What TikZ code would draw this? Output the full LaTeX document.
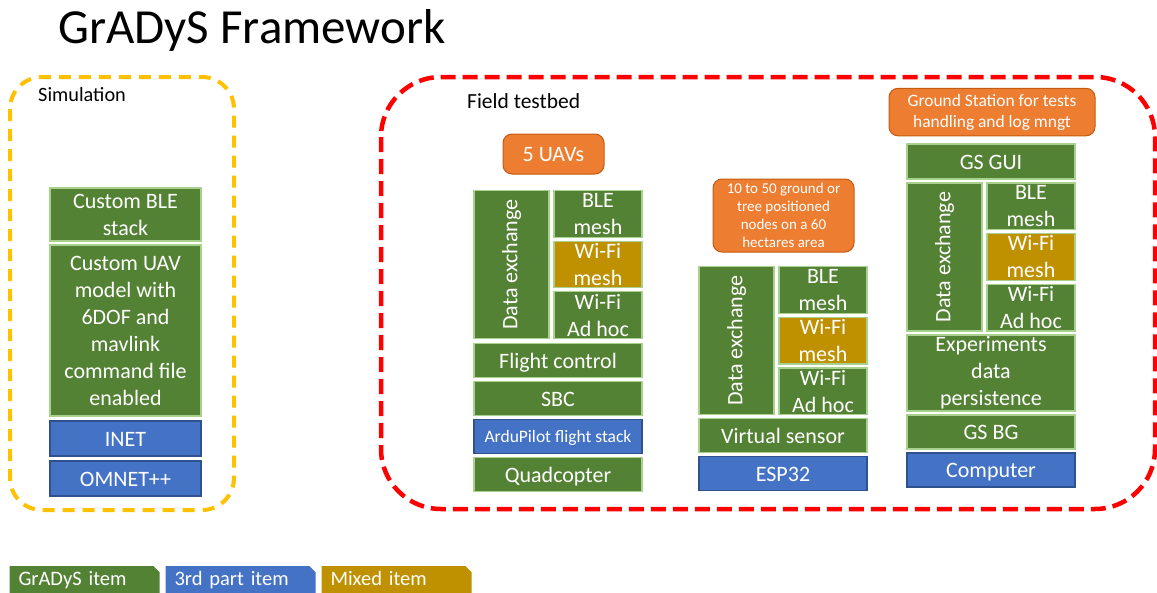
\documentclass[tikz,border=0pt]{standalone}
\usepackage{fontspec}
\setmainfont{Carlito}
\usetikzlibrary{positioning,backgrounds}

\definecolor{gradysgreen}{HTML}{548235}
\definecolor{thirdblue}{HTML}{4472C4}
\definecolor{mixedgold}{HTML}{BF9000}
\definecolor{calloutorange}{HTML}{ED7D31}
\definecolor{simyellow}{HTML}{FFC000}
\definecolor{fieldred}{HTML}{FF0000}
\definecolor{greenedge}{HTML}{A9D18E}
\definecolor{blueedge}{HTML}{2F528F}
\definecolor{orangeedge}{HTML}{C55A11}

\newcommand{\stackfont}{\fontsize{22}{27}\selectfont}
\newcommand{\smallstack}{\fontsize{17.5}{21}\selectfont}

\tikzset{
  basic/.style   = {rectangle, inner sep=0pt, outer sep=0pt, align=center,
                    text=white, font=\stackfont, line width=1.2pt},
  gitem/.style   = {basic, fill=gradysgreen, draw=greenedge},
  titem/.style   = {basic, fill=thirdblue, draw=blueedge},
  mitem/.style   = {basic, fill=mixedgold, draw=greenedge},
  callout/.style = {basic, rounded corners=9pt, fill=calloutorange,
                    draw=orangeedge, line width=1pt, anchor=north west},
  oneline/.style = {text height=20pt, text depth=5pt},
  dxbox/.style   = {minimum width=75pt, minimum height=148pt},
  netbox/.style  = {minimum width=88pt, minimum height=46.67pt},
  layer/.style   = {oneline, minimum width=168pt, minimum height=34pt},
  legend/.style  = {basic, font=\fontsize{20.5}{24}\selectfont, text width=132pt,
                    text height=15pt, text depth=5pt,
                    inner xsep=9pt, align=left, minimum height=28pt, anchor=north west}
}

\begin{document}
\begin{tikzpicture}[x=1pt, y=-1pt]
\useasboundingbox (0,0) rectangle (1157,592);

% title
\node[anchor=base west, inner sep=0pt, font=\fontsize{49}{55}\selectfont] (title) at (58,43) {GrADyS Framework};

% the two environments
\draw[simyellow, line width=4pt, dash pattern=on 12pt off 8pt, rounded corners=32pt] (10,77) rectangle (234,510);
\draw[fieldred, line width=4.5pt, dash pattern=on 15pt off 7pt, rounded corners=60pt] (381,77) rectangle (1155,509);
\node[anchor=west, inner sep=0pt, font=\fontsize{20.3}{24}\selectfont] (sim) at (38,95) {Simulation};
\node[anchor=west, inner sep=0pt, font=\fontsize{21.5}{24}\selectfont] (field) at (467,101) {Field testbed};

% simulation stack
\node[gitem, minimum width=151pt, minimum height=53pt, anchor=north west] (s-ble) at (50,188) {Custom BLE\\stack};
\node[gitem, minimum width=151pt, minimum height=171pt, below=4pt of s-ble] (s-uav) {Custom UAV\\model with\\6DOF and\\mavlink\\command file\\enabled};
\node[titem, oneline, minimum width=151pt, minimum height=35pt, below=5pt of s-uav] (s-inet) {INET};
\node[titem, oneline, minimum width=151pt, minimum height=35pt, below=5pt of s-inet] (s-omnet) {OMNET++};

% data exchange groups: UAVs, ground nodes, ground station
\foreach \c/\x/\y in {u/474/190.5, n/699/266.7, g/907/183}{
  \node[gitem, dxbox, anchor=north west] (\c-dx) at (\x,\y) {\rotatebox{90}{Data exchange}};
  \node[gitem, netbox, right=5pt of \c-dx.north east, anchor=north west] (\c-ble) {BLE\\mesh};
  \node[mitem, netbox, below=4pt of \c-ble] (\c-wmesh) {Wi-Fi\\mesh};
  \node[gitem, netbox, below=4pt of \c-wmesh] (\c-adhoc) {Wi-Fi\\Ad hoc};
}

% UAV column
\node[callout, oneline, minimum width=101pt, minimum height=40pt] (uavs) at (503,134) {5 UAVs};
\node[gitem, layer, below=5pt of u-dx.south west, anchor=north west] (u-fc) {Flight control};
\node[gitem, layer, below=4pt of u-fc] (u-sbc) {SBC};
\node[titem, layer, below=4pt of u-sbc, font=\smallstack, text height=16pt, text depth=4pt] (u-ardu) {ArduPilot flight stack};
\node[gitem, layer, below=4pt of u-ardu] (u-quad) {Quadcopter};

% ground nodes column
\node[callout, font=\fontsize{15}{18}\selectfont, minimum width=141pt, minimum height=73pt] (nodes) at (713,179) {10 to 50 ground or\\tree positioned\\nodes on a 60\\hectares area};
\node[gitem, layer, below=4pt of n-dx.south west, anchor=north west] (n-vs) {Virtual sensor};
\node[titem, layer, below=4pt of n-vs] (n-esp) {ESP32};

% ground station column
\node[callout, font=\fontsize{17.4}{21}\selectfont, minimum width=206pt, minimum height=47.5pt] (gs) at (889,88.3) {Ground Station for tests\\handling and log mngt};
\node[gitem, layer, minimum height=35pt, above=4pt of g-dx.north west, anchor=south west] (g-gui) {GS GUI};
\node[gitem, minimum width=168pt, minimum height=76pt, below=4pt of g-dx.south west, anchor=north west] (g-exp) {Experiments\\data\\persistence};
\node[gitem, layer, below=4pt of g-exp] (g-bg) {GS BG};
\node[titem, layer, below=4pt of g-bg] (g-pc) {Computer};

% legend
\node[legend] (lg-g) at (9.5,566) {GrADyS item};
\node[legend, right=6pt of lg-g] (lg-t) {3rd part item};
\node[legend, right=6pt of lg-t] (lg-m) {Mixed item};
\begin{scope}[on background layer]
\foreach \lg/\col in {lg-g/gradysgreen, lg-t/thirdblue, lg-m/mixedgold}
  \fill[\col] (\lg.south west) -- (\lg.north west) -- ([xshift=-6pt]\lg.north east)
    -- ([yshift=-6pt]\lg.north east) -- (\lg.south east) -- cycle;
\end{scope}

\end{tikzpicture}
\end{document}
